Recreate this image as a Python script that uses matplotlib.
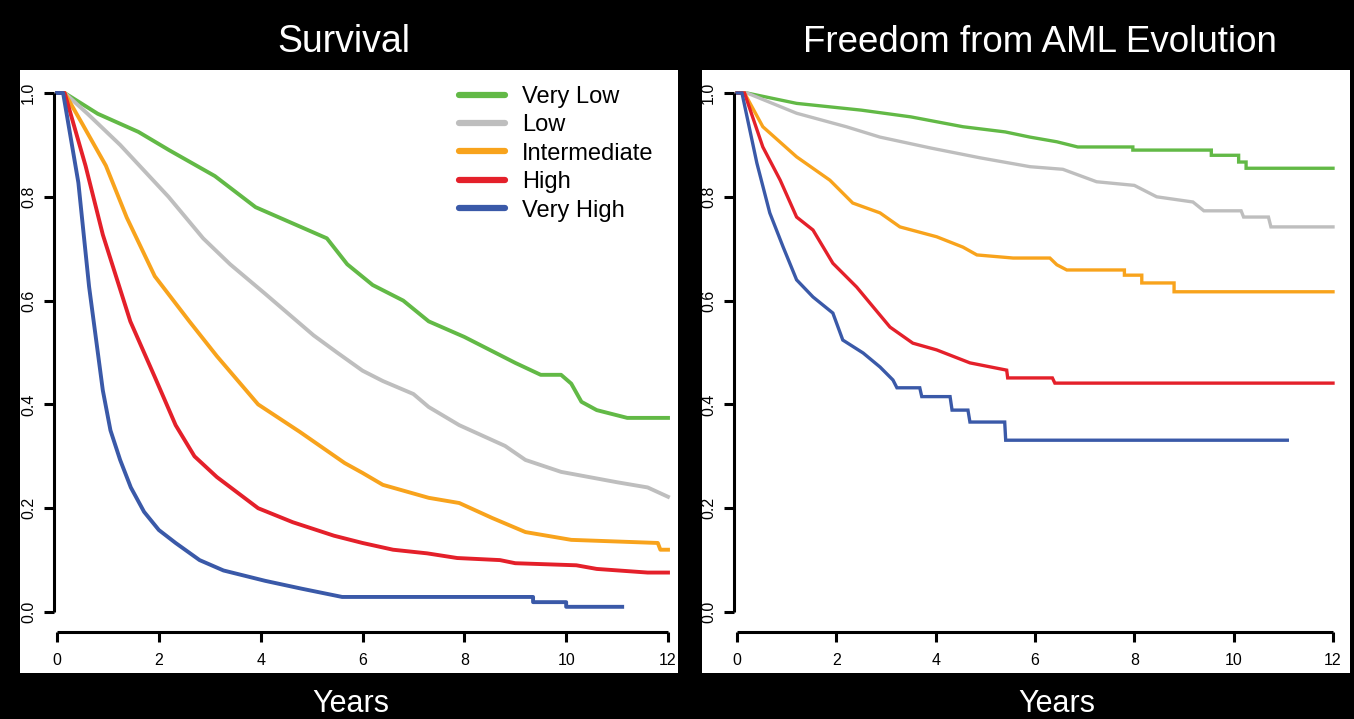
import matplotlib
matplotlib.use("Agg")
import matplotlib.pyplot as plt
from matplotlib.patches import Rectangle

plt.rcParams['font.family'] = ['Liberation Sans', 'DejaVu Sans']

groups = ["Very Low", "Low", "Intermediate", "High", "Very High"]
colors = ["#62B946", "#BEBEBE", "#F8A31C", "#E4202A", "#3A59A8"]

# Survival curves (years, proportion)
sv_vlow_t = [0, 0.15, 0.8, 1.6, 2.2, 3.1, 3.9, 4.6, 5.3, 5.7, 6.2, 6.8, 7.3, 8.0, 8.4, 9.0, 9.5, 9.9, 10.1, 10.3, 10.6, 11.2, 12.0]
sv_vlow_v = [1.0, 1.0, 0.96, 0.925, 0.89, 0.84, 0.78, 0.75, 0.72, 0.67, 0.63, 0.60, 0.56, 0.53, 0.51, 0.48, 0.457, 0.457, 0.44, 0.405, 0.389, 0.374, 0.374]
sv_low_t = [0, 0.15, 0.6, 1.24, 2.19, 2.87, 3.4, 4.09, 4.6, 5.04, 5.5, 6.0, 6.4, 7.0, 7.3, 7.9, 8.8, 9.2, 9.9, 11.0, 11.6, 12.0]
sv_low_v = [1, 1, 0.96, 0.90, 0.80, 0.72, 0.67, 0.613, 0.57, 0.533, 0.50, 0.465, 0.445, 0.42, 0.395, 0.36, 0.32, 0.293, 0.27, 0.25, 0.24, 0.222]
sv_int_t = [0, 0.15, 0.5, 0.96, 1.37, 1.92, 2.6, 3.14, 3.95, 4.77, 5.65, 6.0, 6.4, 7.3, 7.9, 8.55, 9.2, 10.1, 11.8, 11.85, 12.0]
sv_int_v = [1, 1, 0.94, 0.86, 0.76, 0.647, 0.56, 0.493, 0.40, 0.347, 0.287, 0.268, 0.245, 0.22, 0.21, 0.181, 0.154, 0.139, 0.133, 0.12, 0.12]
sv_high_t = [0, 0.15, 0.56, 0.9, 1.44, 1.92, 2.33, 2.7, 3.14, 3.95, 4.63, 5.44, 6.0, 6.6, 7.27, 7.86, 8.7, 9.0, 10.2, 10.6, 11.6, 12.0]
sv_high_v = [1, 1, 0.86, 0.727, 0.56, 0.453, 0.36, 0.30, 0.26, 0.20, 0.173, 0.147, 0.133, 0.12, 0.113, 0.104, 0.10, 0.094, 0.09, 0.083, 0.076, 0.076]
sv_vhigh_t = [0, 0.12, 0.42, 0.63, 0.9, 1.05, 1.24, 1.45, 1.71, 2.0, 2.33, 2.8, 3.27, 4.09, 4.8, 5.6, 9.35, 9.35, 10.0, 10.0, 11.1]
sv_vhigh_v = [1, 1, 0.827, 0.627, 0.427, 0.35, 0.293, 0.24, 0.193, 0.158, 0.133, 0.10, 0.08, 0.06, 0.045, 0.029, 0.029, 0.019, 0.019, 0.01, 0.01]

# Freedom from AML evolution
aml_vlow_t = [0, 0.2, 1.2, 2.5, 3.5, 4.55, 5.4, 5.9, 6.44, 6.86, 7.97, 7.97, 9.55, 9.55, 10.1, 10.1, 10.25, 10.25, 12]
aml_vlow_v = [1, 1, 0.98, 0.967, 0.954, 0.935, 0.925, 0.915, 0.906, 0.896, 0.896, 0.89, 0.89, 0.88, 0.88, 0.867, 0.867, 0.855, 0.855]
aml_low_t = [0, 0.2, 1.2, 2.2, 2.88, 3.9, 4.9, 5.9, 6.56, 7.24, 8.0, 8.45, 9.18, 9.4, 10.15, 10.2, 10.7, 10.75, 12]
aml_low_v = [1, 1, 0.961, 0.935, 0.915, 0.894, 0.875, 0.858, 0.853, 0.829, 0.822, 0.80, 0.79, 0.773, 0.773, 0.761, 0.761, 0.742, 0.742]
aml_int_t = [0, 0.15, 0.52, 1.2, 1.87, 2.33, 2.88, 3.28, 4.02, 4.55, 4.83, 5.56, 6.3, 6.44, 6.64, 7.8, 7.8, 8.15, 8.15, 8.8, 8.8, 12]
aml_int_v = [1, 1, 0.935, 0.877, 0.832, 0.788, 0.769, 0.742, 0.723, 0.703, 0.688, 0.682, 0.682, 0.669, 0.659, 0.659, 0.649, 0.649, 0.634, 0.634, 0.617, 0.617]
aml_high_t = [0, 0.15, 0.52, 0.87, 1.2, 1.53, 1.93, 2.41, 2.74, 3.08, 3.54, 4.02, 4.69, 5.43, 5.45, 6.35, 6.4, 12]
aml_high_v = [1, 1, 0.896, 0.832, 0.761, 0.736, 0.672, 0.626, 0.588, 0.549, 0.518, 0.505, 0.48, 0.466, 0.451, 0.451, 0.441, 0.441]
aml_vhigh_t = [0, 0.1, 0.4, 0.66, 0.93, 1.2, 1.53, 1.93, 2.13, 2.54, 2.88, 3.14, 3.22, 3.68, 3.72, 4.29, 4.33, 4.65, 4.69, 5.39, 5.41, 11.08]
aml_vhigh_v = [1, 1, 0.865, 0.769, 0.703, 0.64, 0.607, 0.576, 0.524, 0.499, 0.472, 0.447, 0.432, 0.432, 0.415, 0.415, 0.389, 0.389, 0.366, 0.366, 0.331, 0.331]

x_ticks = [0, 2, 4, 6, 8, 10, 12]
y_ticks = [0.0, 0.2, 0.4, 0.6, 0.8, 1.0]
y_ticklabels = ["0.0", "0.2", "0.4", "0.6", "0.8", "1.0"]

survival = [(sv_vlow_t, sv_vlow_v), (sv_low_t, sv_low_v), (sv_int_t, sv_int_v),
            (sv_high_t, sv_high_v), (sv_vhigh_t, sv_vhigh_v)]
aml = [(aml_vlow_t, aml_vlow_v), (aml_low_t, aml_low_v), (aml_int_t, aml_int_v),
       (aml_high_t, aml_high_v), (aml_vhigh_t, aml_vhigh_v)]

W, H = 1354, 719
fig = plt.figure(figsize=(W / 100, H / 100), dpi=100, facecolor="black")

def px_rect(x0, y0, x1, y1):
    return [x0 / W, 1 - y1 / H, (x1 - x0) / W, (y1 - y0) / H]

# white panels (drawn beneath the axes)
for (x0, x1) in [(20, 678), (702, 1350)]:
    r = px_rect(x0, 70, x1, 673)
    fig.patches.append(Rectangle((r[0], r[1]), r[2], r[3], transform=fig.transFigure,
                                 facecolor="white", edgecolor="none", zorder=-10))

ymin = -20 / 519.0

def setup(ax):
    ax.set_zorder(5)
    ax.set_facecolor("none")
    ax.set_xlim(0, 12)
    ax.set_ylim(ymin, 1.0)
    for s in ["top", "right"]:
        ax.spines[s].set_visible(False)
    ax.spines["left"].set_bounds(0, 1)
    ax.spines["bottom"].set_bounds(0, 12)
    ax.spines["left"].set_linewidth(2.2)
    ax.spines["bottom"].set_linewidth(2.2)
    ax.spines["left"].set_position(("outward", 2))
    ax.set_xticks(x_ticks)
    ax.set_xticklabels([str(v) for v in x_ticks])
    ax.set_yticks(y_ticks)
    ax.set_yticklabels(y_ticklabels, rotation=90, va="center")
    ax.tick_params(axis="both", length=7, width=2.2, labelsize=11.5, colors="black")
    ax.tick_params(axis="x", pad=8)
    ax.tick_params(axis="y", pad=6)
    for spine in ax.spines.values():
        spine.set_capstyle("butt")

ax1 = fig.add_axes(px_rect(57, 93, 668, 632))
setup(ax1)
for (t, v), c, g in zip(survival, colors, groups):
    ax1.plot(t, v, color=c, lw=2.8, label=g, solid_joinstyle="round", clip_on=False)

leg = ax1.legend(loc="upper left", bbox_to_anchor=(459 / W, 1 - 86 / H),
                 bbox_transform=fig.transFigure, frameon=False, fontsize=17,
                 handlelength=1.95, handletextpad=0.72, labelspacing=0.27,
                 borderpad=0, borderaxespad=0)
for line in leg.get_lines():
    line.set_linewidth(4.5)
    line.set_solid_capstyle("round")

ax2 = fig.add_axes(px_rect(737, 93, 1333, 632))
setup(ax2)
for (t, v), c, g in zip(aml, colors, groups):
    ax2.plot(t, v, color=c, lw=2.4, label=g, solid_joinstyle="miter", clip_on=False)

fig.text(344 / W, 1 - 42 / H, "Survival", color="white", fontsize=27,
         ha="center", va="center")
fig.text(1040 / W, 1 - 42 / H, "Freedom from AML Evolution", color="white", fontsize=26.5,
         ha="center", va="center")
fig.text(351 / W, 1 - 704 / H, "Years", color="white", fontsize=22,
         ha="center", va="center")
fig.text(1057 / W, 1 - 704 / H, "Years", color="white", fontsize=22,
         ha="center", va="center")

fig.savefig("out.png", dpi=100, facecolor="black")
